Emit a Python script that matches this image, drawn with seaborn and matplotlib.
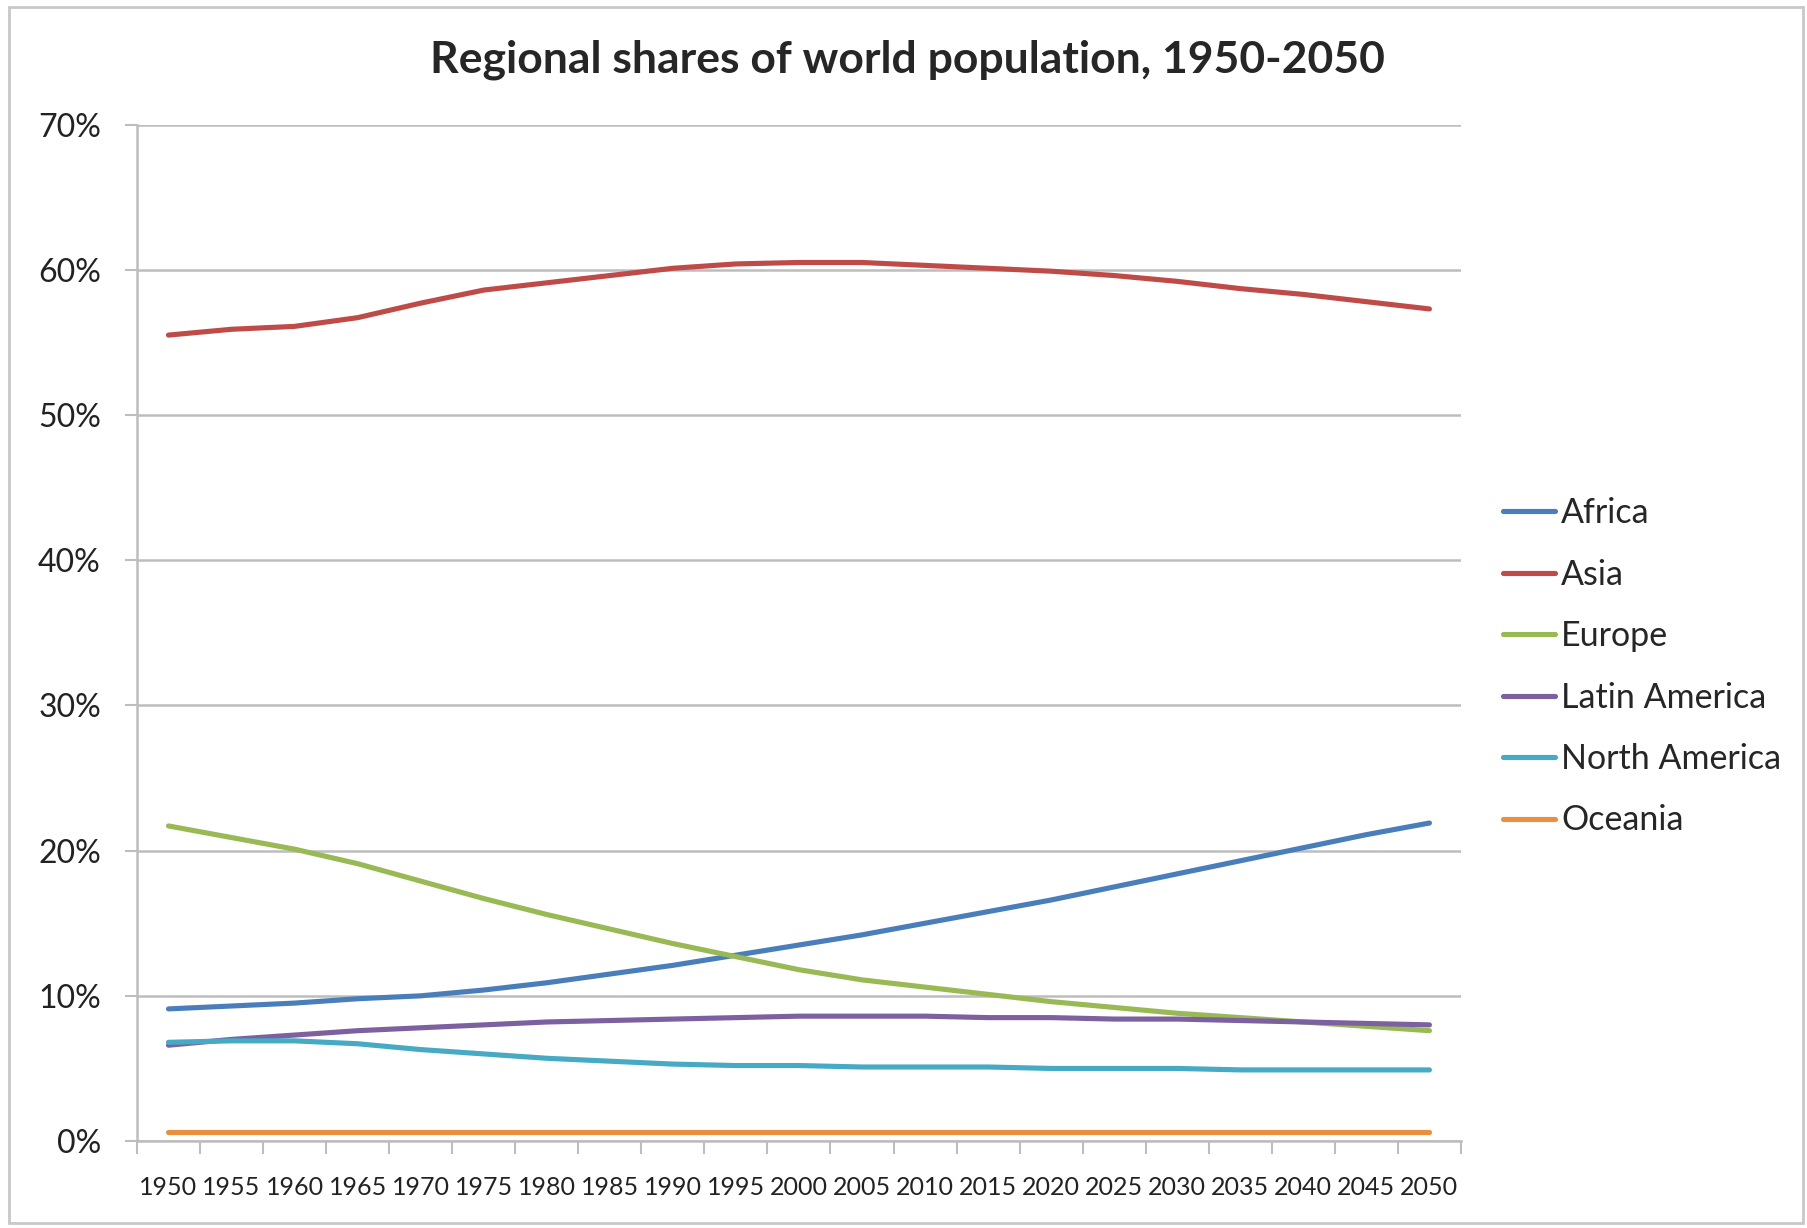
import pandas as pd
import matplotlib.pyplot as plt
import matplotlib.patches as mpatches
import seaborn as sns
from matplotlib.ticker import FixedLocator, FuncFormatter

# Data (percent of world population)
years = list(range(1950, 2051, 5))
africa = [9.1, 9.3, 9.5, 9.8, 10.0, 10.4, 10.9, 11.5, 12.1, 12.8, 13.5,
          14.2, 15.0, 15.8, 16.6, 17.5, 18.4, 19.3, 20.2, 21.1, 21.9]
asia = [55.5, 55.9, 56.1, 56.7, 57.7, 58.6, 59.1, 59.6, 60.1, 60.4, 60.5,
        60.5, 60.3, 60.1, 59.9, 59.6, 59.2, 58.7, 58.3, 57.8, 57.3]
europe = [21.7, 20.9, 20.1, 19.1, 17.9, 16.7, 15.6, 14.6, 13.6, 12.7, 11.8,
          11.1, 10.6, 10.1, 9.6, 9.2, 8.8, 8.5, 8.2, 7.9, 7.6]
latin_america = [6.6, 7.0, 7.3, 7.6, 7.8, 8.0, 8.2, 8.3, 8.4, 8.5, 8.6,
                 8.6, 8.6, 8.5, 8.5, 8.4, 8.4, 8.3, 8.2, 8.1, 8.0]
north_america = [6.8, 6.9, 6.9, 6.7, 6.3, 6.0, 5.7, 5.5, 5.3, 5.2, 5.2,
                 5.1, 5.1, 5.1, 5.0, 5.0, 5.0, 4.9, 4.9, 4.9, 4.9]
oceania = [0.6, 0.6, 0.6, 0.6, 0.6, 0.6, 0.6, 0.6, 0.6, 0.6, 0.6,
           0.6, 0.6, 0.6, 0.6, 0.6, 0.6, 0.6, 0.6, 0.6, 0.6]

regions = ['Africa', 'Asia', 'Europe', 'Latin America', 'North America', 'Oceania']
series = [africa, asia, europe, latin_america, north_america, oceania]
colors = ['#4A7EBB', '#BE4B48', '#98B954', '#7D60A0', '#46AAC5', '#E8903F']

rows = []
for name, vals in zip(regions, series):
    for y, v in zip(years, vals):
        rows.append({'year': y, 'share': v, 'region': name})
df = pd.DataFrame(rows)

sns.set_style('white')
plt.rcParams['font.family'] = ['Lato', 'DejaVu Sans']

fig = plt.figure(figsize=(18.07, 12.28), dpi=100)
ax = fig.add_axes([0.0758, 0.0708, 0.7327, 0.8278])

sns.lineplot(data=df, x='year', y='share', hue='region', hue_order=regions,
             palette=dict(zip(regions, colors)), linewidth=3.7, ax=ax,
             legend=False)

# y axis
ax.set_ylim(0, 70)
ax.set_yticks(range(0, 71, 10))
ax.yaxis.set_major_formatter(FuncFormatter(lambda v, p: f'{int(v)}%'))
ax.yaxis.grid(True, color='#BDBDBD', linewidth=1.8)
ax.set_axisbelow(True)
ax.tick_params(axis='y', which='major', length=9, width=1.5, color='#BDBDBD',
               labelsize=23, pad=17, left=True, labelcolor='#222222')

# x axis as categories: labels centred, tick marks between categories
ax.set_xlim(1947.5, 2052.5)
ax.set_xticks(years)
ax.set_xticklabels([str(y) for y in years])
ax.xaxis.set_minor_locator(FixedLocator([1947.5 + 5 * i for i in range(22)]))
ax.tick_params(axis='x', which='major', length=0, labelsize=18, pad=25,
               labelcolor='#222222')
ax.tick_params(axis='x', which='minor', length=9, width=1.5, color='#BDBDBD',
               bottom=True)

for s in ['top', 'right']:
    ax.spines[s].set_visible(False)
for s in ['left', 'bottom']:
    ax.spines[s].set_color('#BDBDBD')
    ax.spines[s].set_linewidth(1.8)

ax.set_xlabel('')
ax.set_ylabel('')

fig.text(0.502, 0.951, 'Regional shares of world population, 1950-2050',
         ha='center', va='center', fontsize=32, fontweight='bold')

handles = [plt.Line2D([], [], color=c, linewidth=3.7) for c in colors]
fig.legend(handles, regions, loc='upper left', bbox_to_anchor=(0.815, 0.620),
           frameon=False, fontsize=24.5, handlelength=1.53, handletextpad=0.17,
           labelspacing=0.865)

# outer chart border
fig.patches.append(mpatches.Rectangle((0.005, 0.004), 0.993, 0.99, transform=fig.transFigure,
                                      fill=False, edgecolor='#C8C8C8', linewidth=2))

fig.savefig('out.png', dpi=100)
